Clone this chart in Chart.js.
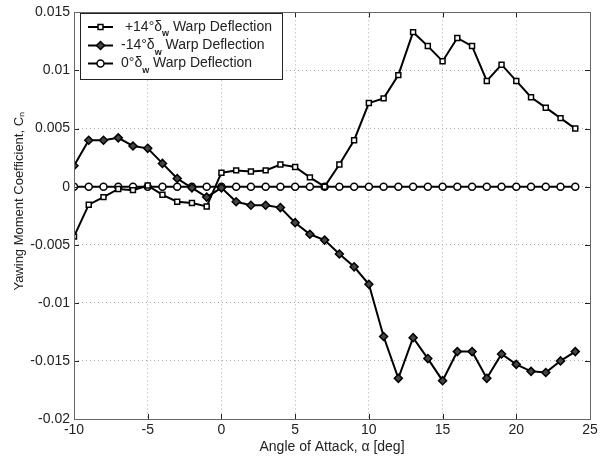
<!DOCTYPE html>
<html>
<head>
  <title>Yawing Moment Coefficient</title>
  <style>
    body { margin: 0; background: #fff; }
    #wrap { width: 607px; height: 456px; }
  </style>
</head>
<body>
  <div id="wrap"><canvas id="cnChart" width="607" height="456"></canvas></div>

  <script src="https://cdn.jsdelivr.net/npm/chart.js@4.4.0/dist/chart.umd.js"></script>
  <script>
    // angle of attack [deg]
    const angles = [-10, -9, -8, -7, -6, -5, -4, -3, -2, -1, 0, 1, 2, 3, 4, 5, 6, 7, 8, 9,
                    10, 11, 12, 13, 14, 15, 16, 17, 18, 19, 20, 21, 22, 23, 24];
    // Cn, +14 deg warp
    const cnPlus14 = [-0.0043, -0.00155, -0.0009, -0.0002, -0.0003, 0.0001, -0.0007, -0.0013, -0.0014, -0.0017,
                      0.0012, 0.0014, 0.0013, 0.0014, 0.0019, 0.0017, 0.0008, 0.0000, 0.0019, 0.0040,
                      0.0072, 0.0076, 0.0096, 0.0133, 0.0121, 0.0108, 0.0128, 0.0121, 0.0091, 0.0105,
                      0.0091, 0.0077, 0.0068, 0.0059, 0.0050];
    // Cn, -14 deg warp
    const cnMinus14 = [0.0018, 0.0040, 0.0040, 0.0042, 0.0035, 0.0033, 0.0020, 0.0007, -0.0001, -0.0009,
                       -0.0001, -0.0013, -0.0016, -0.0016, -0.0018, -0.0031, -0.0041, -0.0046, -0.0058, -0.0069,
                       -0.0084, -0.0129, -0.0165, -0.0130, -0.0148, -0.0167, -0.0142, -0.0142, -0.0165, -0.0144,
                       -0.0153, -0.0159, -0.0160, -0.0150, -0.0142];
    // Cn, 0 deg warp
    const cnZero = [0, 0, 0, 0, 0, 0, 0, 0, 0, 0, 0, 0, 0, 0, 0, 0, 0, 0, 0, 0,
                    0, 0, 0, 0, 0, 0, 0, 0, 0, 0, 0, 0, 0, 0, 0];

    const xTicks = [-10, -5, 0, 5, 10, 15, 20, 25];
    const yTicks = [0.015, 0.01, 0.005, 0, -0.005, -0.01, -0.015, -0.02];
    const yTickLabels = ['0.015', '0.01', '0.005', '0', '-0.005', '-0.01', '-0.015', '-0.02'];

    const legendLabels = [
      { pre: ' +14°δ', sub: 'w', post: ' Warp Deflection' },
      { pre: '-14°δ', sub: 'w', post: ' Warp Deflection' },
      { pre: '0°δ', sub: 'w', post: ' Warp Deflection' }
    ];

    const FONT = '"Liberation Sans", Arial, sans-serif';
    const pts = ys => angles.map((a, i) => ({ x: a, y: ys[i] }));

    // matlab style box, inward ticks, legend
    const matlabFrame = {
      id: 'matlabFrame',
      afterDatasetsDraw(chart) {
        const { ctx, chartArea: a, scales: { x, y } } = chart;
        ctx.save();
        ctx.strokeStyle = '#222';
        ctx.lineWidth = 1;
        xTicks.forEach(t => {
          const px = Math.round(x.getPixelForValue(t)) + 0.5;
          ctx.beginPath();
          ctx.moveTo(px, a.bottom); ctx.lineTo(px, a.bottom - 5);
          ctx.moveTo(px, a.top); ctx.lineTo(px, a.top + 5);
          ctx.stroke();
        });
        yTicks.forEach(t => {
          const py = Math.round(y.getPixelForValue(t)) + 0.5;
          ctx.beginPath();
          ctx.moveTo(a.left, py); ctx.lineTo(a.left + 5, py);
          ctx.moveTo(a.right, py); ctx.lineTo(a.right - 5, py);
          ctx.stroke();
        });
        ctx.strokeStyle = '#666';
        ctx.strokeRect(Math.round(a.left) + 0.5, Math.round(a.top) + 0.5,
                       Math.round(a.right - a.left), Math.round(a.bottom - a.top));

        // legend
        const lx = 80.5, ly = 13.5, lw = 202, lh = 66;
        ctx.fillStyle = '#fff';
        ctx.fillRect(lx, ly, lw, lh);
        ctx.strokeStyle = '#222';
        ctx.strokeRect(lx, ly, lw, lh);
        const rows = [27, 45.5, 63.5];
        const styles = ['rect', 'rectRot', 'circle'];
        chart.data.datasets.forEach((ds, i) => {
          const ry = rows[i];
          ctx.strokeStyle = '#000';
          ctx.lineWidth = 2;
          ctx.beginPath();
          ctx.moveTo(88, ry); ctx.lineTo(113, ry);
          ctx.stroke();
          ctx.lineWidth = 1.5;
          ctx.fillStyle = ds.pointBackgroundColor;
          Chart.helpers.drawPoint(ctx, { pointStyle: styles[i], radius: ds.pointRadius, borderWidth: 1.5 }, 100.5, ry);
          const lab = legendLabels[i];
          ctx.fillStyle = '#222';
          ctx.textBaseline = 'middle';
          ctx.font = '14px ' + FONT;
          let tx = 121;
          ctx.fillText(lab.pre, tx, ry);
          tx += ctx.measureText(lab.pre).width;
          ctx.font = 'bold 9px ' + FONT;
          ctx.fillText(lab.sub, tx, ry + 7);
          tx += ctx.measureText(lab.sub).width;
          ctx.font = '14px ' + FONT;
          ctx.fillText(lab.post, tx, ry);
        });
        ctx.restore();
      }
    };

    const ctx = document.getElementById('cnChart').getContext('2d');
    new Chart(ctx, {
      type: 'line',
      data: {
        datasets: [
          {
            label: '+14° Warp Deflection',
            data: pts(cnPlus14),
            borderColor: '#000', borderWidth: 2,
            pointStyle: 'rect', pointRadius: 3.5,
            pointBackgroundColor: '#fff', pointBorderColor: '#000', pointBorderWidth: 1.5
          },
          {
            label: '-14° Warp Deflection',
            data: pts(cnMinus14),
            borderColor: '#000', borderWidth: 2,
            pointStyle: 'rectRot', pointRadius: 4,
            pointBackgroundColor: '#444', pointBorderColor: '#000', pointBorderWidth: 1.5
          },
          {
            label: '0° Warp Deflection',
            data: pts(cnZero),
            borderColor: '#000', borderWidth: 2,
            pointStyle: 'circle', pointRadius: 3.5,
            pointBackgroundColor: '#fff', pointBorderColor: '#000', pointBorderWidth: 1.5
          }
        ]
      },
      options: {
        responsive: false,
        animation: false,
        layout: { padding: { top: 11, right: 17, left: 0, bottom: 0 } },
        plugins: { legend: { display: false }, tooltip: { enabled: false } },
        elements: { line: { tension: 0 } },
        scales: {
          x: {
            type: 'linear', min: -10, max: 25,
            afterBuildTicks: s => { s.ticks = xTicks.map(v => ({ value: v })); },
            afterFit: s => { s.height = 37; },
            grid: {
              drawTicks: false,
              color: c => (c.tick.value === -10 || c.tick.value === 25) ? 'rgba(0,0,0,0)' : '#aaa'
            },
            border: { display: false, dash: [1, 3] },
            ticks: { color: '#222', padding: 3, font: { family: FONT, size: 14 }, maxRotation: 0 },
            title: {
              display: true, text: 'Angle of Attack, α [deg]', color: '#222',
              font: { family: FONT, size: 14 }, padding: { top: 0, bottom: 0 }
            }
          },
          y: {
            type: 'linear', min: -0.02, max: 0.015,
            afterBuildTicks: s => { s.ticks = yTicks.map(v => ({ value: v })); },
            afterFit: s => { s.width = 74; },
            grid: {
              drawTicks: false,
              color: c => (c.tick.value === -0.02 || c.tick.value === 0.015) ? 'rgba(0,0,0,0)' : '#aaa'
            },
            border: { display: false, dash: [1, 3] },
            ticks: {
              color: '#222', padding: 4, font: { family: FONT, size: 14 },
              callback: v => yTickLabels[yTicks.indexOf(v)]
            },
            title: {
              display: true, text: '        Yawing Moment Coefficient, Cₙ', color: '#222',
              font: { family: FONT, size: 13 }, padding: { top: 12, bottom: 2 }
            }
          }
        }
      },
      plugins: [matlabFrame]
    });
  </script>
</body>
</html>
